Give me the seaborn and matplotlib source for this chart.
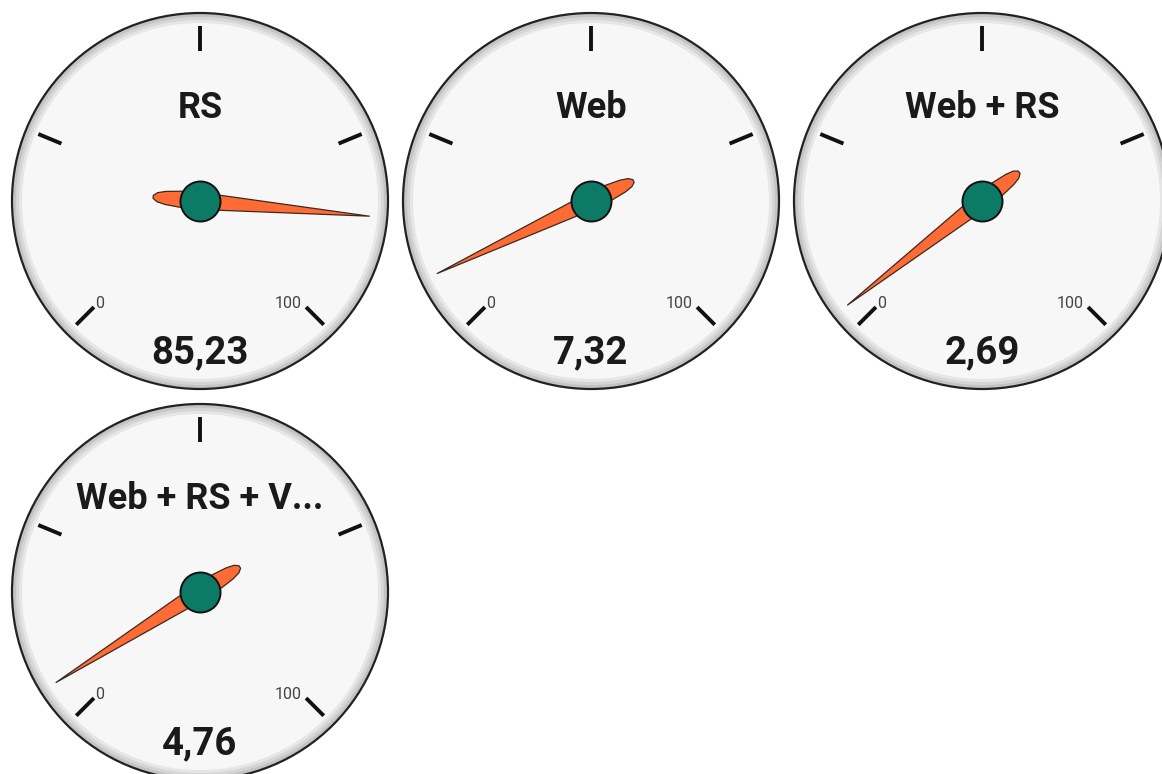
import numpy as np
import pandas as pd
import matplotlib
matplotlib.use('Agg')
import matplotlib.pyplot as plt
from matplotlib.patches import Circle, Polygon
import seaborn as sns

# gauge data
labels = ['RS', 'Web', 'Web + RS', 'Web + RS + V...']
values = [85.23, 7.32, 2.69, 4.76]
value_text = ['85,23', '7,32', '2,69', '4,76']
gauge_min, gauge_max = 0, 100
major_ticks = [0, 25, 50, 75, 100]

sns.set_theme(style='white')
plt.rcParams['font.family'] = ['Roboto', 'DejaVu Sans']

W, H = 1162, 774
R = 188          # outer radius (px)
COLS = 3
STEP = 391

fig = plt.figure(figsize=(W / 100, H / 100), dpi=100)
ax = fig.add_axes([0, 0, 1, 1])
ax.set_xlim(0, W)
ax.set_ylim(H, 0)
ax.set_aspect('equal')
ax.axis('off')


def angle_of(v):
    # 270 deg sweep, 0 at lower-left, 100 at lower-right (clockwise from top)
    frac = (v - gauge_min) / (gauge_max - gauge_min)
    return np.radians(-135 + 270 * frac)


def polar(cx, cy, theta, r):
    return cx + r * np.sin(theta), cy - r * np.cos(theta)


def draw_gauge(cx, cy, label, value, vtext):
    # bezel and face
    ax.add_patch(Circle((cx, cy), R, facecolor='#c4c4c4', edgecolor='#222222', lw=1.6, zorder=1))
    ax.add_patch(Circle((cx, cy), R - 4, facecolor='#d6d6d6', edgecolor='none', zorder=1))
    ax.add_patch(Circle((cx, cy), R - 7, facecolor='#e6e6e6', edgecolor='none', zorder=1))
    ax.add_patch(Circle((cx, cy), R - 10, facecolor='#f7f7f7', edgecolor='none', zorder=1))

    # major ticks
    for t in major_ticks:
        th = angle_of(t)
        x0, y0 = polar(cx, cy, th, 150)
        x1, y1 = polar(cx, cy, th, 175)
        ax.plot([x0, x1], [y0, y1], color='#111111', lw=2.8, solid_capstyle='butt', zorder=2)

    # min / max labels
    x, y = polar(cx, cy, angle_of(gauge_min), 143)
    ax.text(x + 1, y + 1, str(gauge_min), fontsize=11.5, color='#444444', ha='center', va='center', zorder=2)
    x, y = polar(cx, cy, angle_of(gauge_max), 143)
    ax.text(x - 13, y + 1, str(gauge_max), fontsize=11.5, color='#444444', ha='center', va='center', zorder=2)

    ax.text(cx, cy - 93, label, fontsize=26, fontweight='bold', color='#1a1a1a',
            ha='center', va='center', zorder=2)
    ax.text(cx, cy + 152, vtext, fontsize=27.5, fontweight='bold', color='#1a1a1a',
            ha='center', va='center', zorder=2)

    # needle: long tapered point toward value, short rounded tail behind
    th = angle_of(value)
    u = np.array([np.sin(th), -np.cos(th)])
    n = np.array([np.cos(th), np.sin(th)])
    prof = [(170, 0), (90, 4), (20, 7.5), (0, 8.5), (-20, 8), (-35, 6.5), (-43, 4.5),
            (-47, 1.5), (-47, -1.5), (-43, -4.5), (-35, -6.5), (-20, -8), (0, -8.5),
            (20, -7.5), (90, -4)]
    pts = [(cx + a * u[0] + b * n[0], cy + a * u[1] + b * n[1]) for a, b in prof]
    ax.add_patch(Polygon(pts, closed=True, facecolor='#ff6b35', edgecolor='#3a2a20',
                         lw=0.9, joinstyle='round', zorder=3))


centers_x, centers_y = [], []
for i, (lab, val, vt) in enumerate(zip(labels, values, value_text)):
    cx = 200 + STEP * (i % COLS)
    cy = 201 + STEP * (i // COLS)
    centers_x.append(cx)
    centers_y.append(cy)
    draw_gauge(cx, cy, lab, val, vt)

# needle hubs
hubs = pd.DataFrame({'x': centers_x, 'y': centers_y})
sns.scatterplot(data=hubs, x='x', y='y', ax=ax, s=830, color='#0d7a66',
                edgecolor='#111111', linewidth=1.4, zorder=4, legend=False)
ax.set_xlim(0, W)
ax.set_ylim(H, 0)
ax.axis('off')

fig.savefig('out.png', dpi=100, facecolor='white')
